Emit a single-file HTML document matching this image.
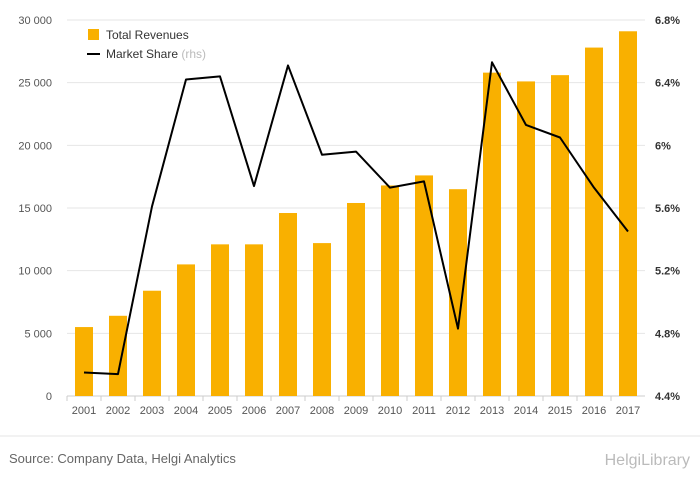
<!DOCTYPE html>
<html><head><meta charset="utf-8"><style>
body{margin:0;background:#fff;font-family:"Liberation Sans",sans-serif}
</style></head><body>
<svg id="chart" width="700" height="483" xmlns="http://www.w3.org/2000/svg" font-family="Liberation Sans, sans-serif">
<g id="grid"></g><g id="bars"></g><g id="line"></g><g id="axes"></g>
<g>
<rect x="88" y="29" width="11" height="11" fill="#f9b000"/>
<text x="106" y="39" font-size="12" fill="#333">Total Revenues</text>
<line x1="87" y1="54" x2="100" y2="54" stroke="#000" stroke-width="2"/>
<text x="106" y="58" font-size="12" fill="#333">Market Share <tspan fill="#bbb">(rhs)</tspan></text>
</g>
<line x1="0" y1="436" x2="700" y2="436" stroke="#e6e6e6"/>
<text x="9" y="463" font-size="13" fill="#666">Source: Company Data, Helgi Analytics</text>
<text x="690" y="465" font-size="16" fill="#bbb" text-anchor="end">HelgiLibrary</text>
</svg>
<script>
const years=['2001','2002','2003','2004','2005','2006','2007','2008','2009','2010','2011','2012','2013','2014','2015','2016','2017'];
const revenues=[5500,6400,8400,10500,12100,12100,14600,12200,15400,16800,17600,16500,25800,25100,25600,27800,29100];
const share=[4.55,4.54,5.61,6.42,6.44,5.74,6.51,5.94,5.96,5.73,5.77,4.83,6.53,6.13,6.05,5.73,5.45];
const leftTicks=[0,5000,10000,15000,20000,25000,30000];
const leftLabels=['0','5 000','10 000','15 000','20 000','25 000','30 000'];
const rightTicks=[4.4,4.8,5.2,5.6,6.0,6.4,6.8];
const rightLabels=['4.4%','4.8%','5.2%','5.6%','6%','6.4%','6.8%'];
const NS='http://www.w3.org/2000/svg';
const plotTop=20,plotBot=396,x0=67,step=34;
const yL=v=>plotBot-(v/30000)*(plotBot-plotTop);
const yR=v=>plotBot-((v-4.4)/2.4)*(plotBot-plotTop);
const xC=i=>x0+step/2+i*step;
function mk(t,a,p){const e=document.createElementNS(NS,t);for(const k in a)e.setAttribute(k,a[k]);document.getElementById(p).appendChild(e);return e;}
leftTicks.forEach((v,i)=>{
 const g=mk('line',{x1:x0,x2:645,y1:yL(v),y2:yL(v),stroke:i==0?'#ccc':'#e6e6e6'},'grid');
 
 
 const t=mk('text',{x:52,y:yL(v)+4,'font-size':11,fill:'#555','text-anchor':'end'},'axes');
 t.textContent=leftLabels[i];
 
 
});
rightTicks.forEach((v,i)=>{
 const t=mk('text',{x:655,y:yR(v)+4,'font-size':11,fill:'#333','font-weight':'bold'},'axes');
 t.textContent=rightLabels[i];
 
 
});
years.forEach((y,i)=>{
 const b=mk('rect',{x:xC(i)-9,y:yL(revenues[i]),width:18,height:plotBot-yL(revenues[i]),fill:'#f9b000'},'bars');
 
 
 const t=mk('text',{x:xC(i),y:414,'font-size':11,fill:'#555','text-anchor':'middle'},'axes');
 t.textContent=y;
 
 
 const tk=mk('line',{x1:x0+i*step,x2:x0+i*step,y1:plotBot,y2:plotBot+5,stroke:'#ccc'},'axes');
 
 
});
const pl=mk('polyline',{points:share.map((v,i)=>xC(i)+','+yR(v)).join(' '),fill:'none',stroke:'#000','stroke-width':2,'stroke-linejoin':'round'},'line');


</script>
</body></html>
